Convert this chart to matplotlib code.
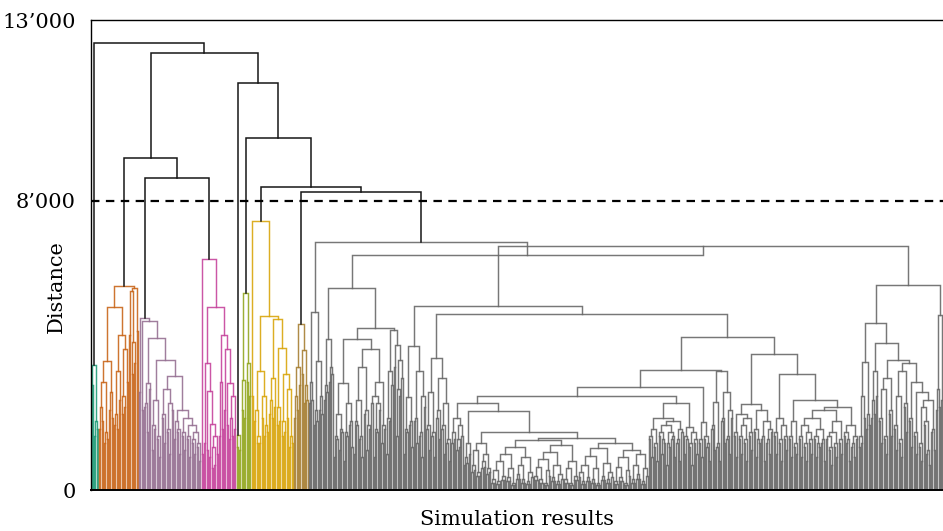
import matplotlib
matplotlib.use("Agg")
import matplotlib.pyplot as plt

CUT = 8000            # height of the cut that defines the flat clusters
ABOVE = "#161616"     # links above the cut

# colours of the flat clusters
TEAL = "#1f9c78"
ORANGE = "#c9661a"
MAUVE = "#967092"
MAGENTA = "#c6449c"
OLIVE = "#93a61f"
GOLD = "#d9a50c"
BROWN = "#a67f33"
GREY = "#686868"

# Each block: *_gaps = merge height between neighbouring leaf pairs,
#             *_pairs = height at which the two results inside each pair merge.
teal_gaps = [3460, 1900]
teal_pairs = [2900, 1500, 1700]
orange_gaps = [2300, 3000, 1600, 3570, 2700, 5050, 2100, 3300, 4290, 2600, 3900, 5650, 5500, 4100, 5600]
orange_pairs = [1700, 1900, 1300, 1400, 2200, 2000, 1800, 1700, 2500, 2100, 2300, 3000, 4300, 3200, 3500, 4400]
mauve_gaps = [4750, 4680, 2400, 2960, 4200, 1800, 2500, 1500, 3600, 2100, 2800, 1700, 2400, 3140,
              1900, 1700, 2200, 1600, 2000, 1500, 1800, 1400, 1600, 1300]
mauve_pairs = [2700, 2200, 2300, 1600, 2800, 1100, 1700, 1400, 900, 2000, 1300, 1600, 1000, 2200,
               1400, 1600, 1000, 1500, 1100, 1400, 900, 1300, 1000, 1200, 800]
magenta_gaps = [6400, 3500, 2750, 1830, 1200, 1500, 5050, 3000, 4290, 3900, 2950, 2000, 2600]
magenta_pairs = [1000, 1300, 1100, 900, 600, 700, 1000, 1500, 1700, 2200, 1800, 1400, 1500, 1700]
olive_pair_gaps = [1520]
olive_pair_pairs = [1200, 1100]
olive_gaps = [3040, 5460, 3500]
olive_pairs = [2200, 2000, 3000, 2600]
gold_gaps = [7430, 2200, 1500, 3290, 2600, 1800, 4800, 2500, 3100, 4730, 2300, 3940, 1900, 3200, 2800, 1500]
gold_pairs = [2600, 1900, 1300, 1300, 2000, 1500, 1600, 2100, 2000, 2300, 1800, 1900, 1500, 1600, 2000,
              1200, 1300]
brown_gaps = [2600, 3410, 4600, 3875, 2900]
brown_pairs = [2000, 2200, 2900, 3200, 2400, 2500]

# large grey cluster, split into its visible sub-blocks
ga_gaps = [3000, 4920, 2200, 3570, 2600]
ga_pairs = [2400, 2500, 1800, 1900, 2200, 2100]
gq_gaps = [2900, 4180, 3400]
gq_pairs = [2500, 2700, 3000, 3200]
gr_gaps = [1500, 2100, 1700, 2950, 1600, 2400, 1900, 4180, 1900, 2500, 1500, 3400, 2200, 1800, 3900,
           2600, 1700, 2400, 3000, 1800, 4470, 2000, 3300, 4420, 4000, 2800, 3600]
gr_pairs = [900, 1400, 1100, 1600, 800, 1500, 1800, 1200, 1000, 1800, 1400, 900, 2100, 1100, 1700,
            2400, 900, 1600, 2200, 1300, 1700, 1000, 1900, 2900, 3400, 1500, 2600, 3100]
gg_gaps = [1700, 2580, 1900, 3970, 2000, 3300, 1600, 2600]
gg_pairs = [1000, 1600, 1800, 1200, 1900, 1300, 1500, 900, 2300]
gi_gaps = [1800, 2700, 1600, 3660, 2200, 3100, 1800, 2400, 1400]
gi_pairs = [1700, 1100, 1500, 900, 2000, 1400, 1700, 1000, 1300, 800]
s457_gaps = [1600, 2000, 1400, 1800]
s457_pairs = [1300, 1400, 1100, 1200, 1500]
s465_gaps = [900, 1300]
s465_pairs = [700, 750, 1000]
s536l_gaps = [700, 1100, 500, 1300, 800, 1000, 600]
s536l_pairs = [500, 550, 400, 400, 600, 650, 450, 500]
s536r_gaps = [300, 550, 250, 800, 400, 1000, 350, 600, 200, 1200, 450, 700, 300, 900, 250, 500,
              1380, 400, 650, 300, 850, 200, 550, 1050, 350, 700, 250, 450, 1250, 300, 600, 200,
              800, 400, 1450, 500, 250, 700, 350, 950, 300, 600, 200, 1150, 400, 750, 300, 500,
              1300, 250, 650, 350, 900, 200, 550, 1100, 300, 700, 450, 1000, 250, 600]
s536r_pairs = [200, 200, 170, 170, 280, 280, 240, 240, 140, 140, 300, 300, 200, 200, 170, 170,
               350, 280, 280, 200, 200, 140, 140, 380, 240, 240, 170, 170, 300, 200, 200, 140,
               140, 280, 280, 350, 170, 170, 240, 240, 200, 200, 140, 140, 280, 280, 200, 200,
               350, 170, 170, 240, 240, 140, 140, 380, 200, 200, 300, 300, 170, 170, 400]
s684_gaps = [1500, 1700, 1300, 1980, 1600, 1400, 1800, 1300, 1600, 1500, 1900, 1400, 1700, 2400, 1500,
             1750, 1300, 1600, 1400]
s684_pairs = [1400, 900, 1200, 800, 1500, 1000, 1300, 700, 1200, 1400, 900, 1300, 800, 1600, 1000,
              1400, 1200, 700, 1300, 1000]
gmr_gaps = [1400, 1890, 1500, 1300]
gmr_pairs = [1300, 900, 1400, 1200, 800]
gn_gaps = [1800, 2440, 1300, 3290, 2000, 2700, 1500, 2200]
gn_pairs = [1700, 1100, 1200, 800, 1900, 1300, 1400, 1000, 2000]
gla_gaps = [1600, 2100, 1500, 1800, 1400, 2000, 1600, 2370, 1700, 1400, 2200, 1500, 1900, 1400, 1700]
gla_pairs = [1500, 900, 1400, 1000, 1300, 800, 1500, 1100, 1600, 900, 1300, 1400, 800, 1300, 1000, 1600]
glb_gaps = [1600, 2000, 1400, 1800, 1500]
glb_pairs = [1500, 1000, 1300, 800, 1400, 1100]
glc_gaps = [1500, 1900, 1300]
glc_pairs = [1400, 900, 1200, 1000]
gld_gaps = [1500, 1800, 1300, 1600, 1400, 2000, 1500, 1300, 1700, 1400, 2200, 1500, 1200, 1600, 1300,
            1900, 1400, 2300, 1600, 1400, 1800, 1300, 1500]
gld_pairs = [1400, 900, 1200, 800, 1300, 1000, 1400, 900, 1200, 1300, 800, 1400, 1100, 700, 1200,
             900, 1300, 1000, 1500, 1300, 800, 1200, 900, 1400]
goa_gaps = [1500, 2600, 3550, 2100]
goa_pairs = [1200, 1300, 2000, 1700, 1800]
gob_gaps = [2500, 3300]
gob_pairs = [2000, 2100, 2600]
goc_gaps = [2000, 2800, 1500, 3100, 2200, 3600, 1800, 2600, 1400, 3300, 2400, 3500, 2000, 3000, 1600,
            2700, 1300, 2300, 1900, 1100, 2500, 1700]
goc_pairs = [1900, 1300, 1400, 1000, 2100, 1500, 1700, 1100, 1300, 900, 2300, 1600, 1900, 1200, 1500,
             1000, 1200, 800, 1800, 1000, 700, 1600, 1100]
gp_gaps = [2800, 4840]
gp_pairs = [2200, 2300, 2500]


class Block:
    def __init__(self, gaps, pairs):
        self.gaps = gaps
        self.pairs = pairs


# (merge height, left, right) for the upper links of the grey cluster
gm_left = (2610, (2400, Block(s457_gaps, s457_pairs),
                  (2190, Block(s465_gaps, s465_pairs),
                   (1610, Block(s536l_gaps, s536l_pairs), Block(s536r_gaps, s536r_pairs)))),
           Block(s684_gaps, s684_pairs))
ge = (5090, Block(gg_gaps, gg_pairs),
      (4860, Block(gi_gaps, gi_pairs),
       (4220, (3320, (2860, gm_left, Block(gmr_gaps, gmr_pairs)), Block(gn_gaps, gn_pairs)),
        (3760, Block(gla_gaps, gla_pairs),
         (3200, Block(glb_gaps, glb_pairs),
          (2490, Block(glc_gaps, glc_pairs), Block(gld_gaps, gld_pairs)))))))
gf = (5660, (4610, Block(goa_gaps, goa_pairs),
             (4060, Block(gob_gaps, gob_pairs), Block(goc_gaps, goc_pairs))),
      Block(gp_gaps, gp_pairs))
grey = (6850, Block(ga_gaps, ga_pairs),
        (6500, (5580, Block(gq_gaps, gq_pairs), Block(gr_gaps, gr_pairs)), (6750, ge, gf)))

clusters = {
    "teal": (TEAL, Block(teal_gaps, teal_pairs)),
    "orange": (ORANGE, Block(orange_gaps, orange_pairs)),
    "mauve": (MAUVE, Block(mauve_gaps, mauve_pairs)),
    "magenta": (MAGENTA, Block(magenta_gaps, magenta_pairs)),
    "olive_pair": (OLIVE, Block(olive_pair_gaps, olive_pair_pairs)),
    "olive": (OLIVE, Block(olive_gaps, olive_pairs)),
    "gold": (GOLD, Block(gold_gaps, gold_pairs)),
    "brown": (BROWN, Block(brown_gaps, brown_pairs)),
    "grey": (GREY, grey),
}

# links above the cut
top = (12370, "teal",
       (12100, (9190, "orange", (8640, "mauve", "magenta")),
        (11270, "olive_pair",
         (9740, "olive", (8390, "gold", (8250, "brown", "grey"))))))

links = []
n_leaves = [0]


def leaf():
    x = 10 * n_leaves[0] + 5
    n_leaves[0] += 1
    return x, 0.0


def link(h, left, right, color):
    (xl, hl), (xr, hr) = left, right
    links.append(([xl, xl, xr, xr], [hl, h, h, hr], ABOVE if h > CUT else color))
    return (xl + xr) / 2.0, h


def from_gaps(block, lo, hi, color):
    if lo == hi:
        a = leaf()
        b = leaf()
        return link(block.pairs[lo], a, b, color)
    k = max(range(lo, hi), key=block.gaps.__getitem__)
    left = from_gaps(block, lo, k, color)
    right = from_gaps(block, k + 1, hi, color)
    return link(block.gaps[k], left, right, color)


def build(spec, color):
    if isinstance(spec, Block):
        return from_gaps(spec, 0, len(spec.gaps), color)
    h, a, b = spec
    left = build(a, color)
    right = build(b, color)
    return link(h, left, right, color)


def build_top(spec):
    if isinstance(spec, str):
        color, sub = clusters[spec]
        return build(sub, color)
    h, a, b = spec
    left = build_top(a)
    right = build_top(b)
    return link(h, left, right, ABOVE)


build_top(top)
N = n_leaves[0]

W, H = 943, 531
fig = plt.figure(figsize=(W / 100, H / 100), dpi=100)
ax = fig.add_axes([91 / W, 41 / H, 852 / W, 470 / H])

for xs, ys, c in links:
    if c == ABOVE:
        ax.plot(xs, ys, color=c, lw=1.1, solid_joinstyle="miter", zorder=3)
    else:
        ax.plot(xs, ys, color=c, lw=1.05, alpha=0.9, solid_joinstyle="miter", zorder=2)

ax.axhline(CUT, color="black", lw=1.6, ls=(0, (3.8, 2.9)), zorder=5)

ax.set_xlim(0, 10 * N)
ax.set_ylim(0, 13000)
ax.set_xticks([])
ax.set_yticks([0, 8000, 13000])
ax.set_yticklabels(["0", "8\u2019000", "13\u2019000"])
ax.tick_params(axis="y", length=0, pad=11)
for lab in ax.get_yticklabels():
    lab.set_fontfamily("DejaVu Serif")
    lab.set_fontsize(15)

for side in ("left", "top", "bottom"):
    ax.spines[side].set_color("black")
    ax.spines[side].set_linewidth(1.0)
ax.spines["bottom"].set_linewidth(1.4)
ax.spines["right"].set_visible(False)

ax.set_xlabel("Simulation results", family="DejaVu Serif", fontsize=15)
ax.xaxis.set_label_coords(0.5, -0.042)
ax.set_ylabel("Distance", family="DejaVu Serif", fontsize=15)
ax.yaxis.set_label_coords(-0.029, 0.432)

fig.savefig("out.png", dpi=100)
